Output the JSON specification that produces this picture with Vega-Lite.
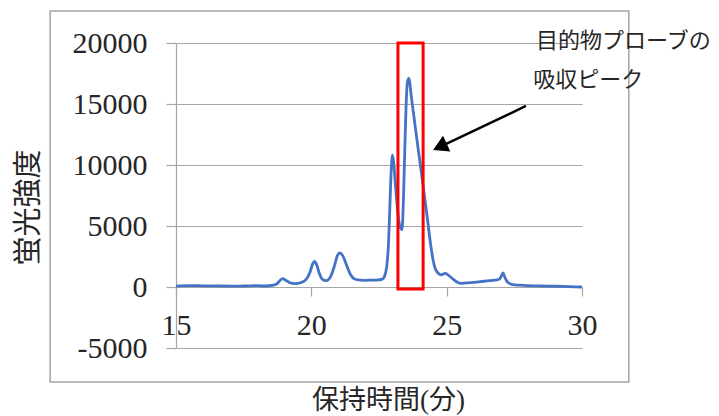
{
  "$schema": "https://vega.github.io/schema/vega-lite/v6.json",
  "width": 406,
  "height": 305,
  "autosize": {"type": "none"},
  "padding": {"left": 176, "top": 43, "right": 137, "bottom": 68},
  "background": "white",
  "config": {"view": {"stroke": null}},
  "encoding": {
    "x": {
      "field": "t", "type": "quantitative",
      "scale": {"domain": [15, 30], "nice": false, "zero": false},
      "axis": {
        "orient": "bottom", "offset": -61, "grid": false,
        "values": [15, 20, 25, 30],
        "labelExpr": "datum.value + ''",
        "domainColor": "#a6a6a6", "domainWidth": 1.2,
        "tickColor": "#a6a6a6", "tickSize": 9, "tickWidth": 1.2,
        "labelFont": "Times New Roman", "labelFontSize": 30, "labelColor": "#262626",
        "labelBaseline": "middle", "labelPadding": 29, "labelFlush": false, "labelOverlap": false,
        "title": "保持時間(分)", "titleFont": "Times New Roman, Noto Sans CJK JP", "titleFontSize": 27,
        "titleFontWeight": "normal", "titleColor": "#262626",
        "titleX": 212, "titleY": 113, "titleAlign": "center", "titleBaseline": "middle"
      }
    },
    "y": {
      "field": "v", "type": "quantitative",
      "scale": {"domain": [-5000, 20000], "nice": false, "zero": false},
      "axis": {
        "orient": "left", "grid": true, "gridColor": "#a6a6a6", "gridWidth": 1.2,
        "values": [-5000, 0, 5000, 10000, 15000, 20000],
        "labelExpr": "datum.value + ''",
        "domainColor": "#a6a6a6", "domainWidth": 1.2,
        "tickColor": "#a6a6a6", "tickSize": 10, "tickWidth": 1.2,
        "labelFont": "Times New Roman", "labelFontSize": 30, "labelColor": "#262626",
        "labelPadding": 19, "labelOverlap": false,
        "title": "蛍光強度", "titleFont": "Noto Sans CJK JP", "titleFontSize": 29,
        "titleFontWeight": "normal", "titleColor": "#262626",
        "titleX": -148, "titleY": 164, "titleAngle": -90, "titleAlign": "center", "titleBaseline": "middle"
      }
    }
  },
  "layer": [
    {
      "data": {"values": [{"t": 10.35, "t2": 31.73, "v": -7787, "v2": 22624}]},
      "mark": {"type": "rect", "fillOpacity": 0, "stroke": "#a6a6a6", "strokeWidth": 1.5, "clip": false},
      "encoding": {"x2": {"field": "t2"}, "y2": {"field": "v2"}}
    },
    {
      "data": {"values": [
        {"t": 15.0, "v": 80}, {"t": 15.5, "v": 120}, {"t": 16.0, "v": 100}, {"t": 16.5, "v": 90},
        {"t": 17.0, "v": 70}, {"t": 17.5, "v": 80}, {"t": 18.0, "v": 120}, {"t": 18.3, "v": 80},
        {"t": 18.6, "v": 150}, {"t": 18.75, "v": 300}, {"t": 18.85, "v": 550}, {"t": 18.95, "v": 680},
        {"t": 19.05, "v": 560}, {"t": 19.2, "v": 350}, {"t": 19.4, "v": 280}, {"t": 19.6, "v": 350},
        {"t": 19.8, "v": 600}, {"t": 19.95, "v": 1200}, {"t": 20.05, "v": 1900}, {"t": 20.12, "v": 2100},
        {"t": 20.2, "v": 1800}, {"t": 20.3, "v": 1100}, {"t": 20.4, "v": 650}, {"t": 20.55, "v": 520},
        {"t": 20.7, "v": 800}, {"t": 20.85, "v": 1700}, {"t": 20.95, "v": 2500}, {"t": 21.05, "v": 2800},
        {"t": 21.15, "v": 2600}, {"t": 21.3, "v": 1800}, {"t": 21.45, "v": 1000}, {"t": 21.6, "v": 650},
        {"t": 21.8, "v": 560}, {"t": 22.0, "v": 550}, {"t": 22.2, "v": 560}, {"t": 22.4, "v": 570},
        {"t": 22.6, "v": 620}, {"t": 22.7, "v": 850}, {"t": 22.78, "v": 1600}, {"t": 22.85, "v": 3500},
        {"t": 22.9, "v": 6500}, {"t": 22.95, "v": 9500}, {"t": 23.0, "v": 10800}, {"t": 23.05, "v": 10000},
        {"t": 23.12, "v": 8000}, {"t": 23.2, "v": 6000}, {"t": 23.28, "v": 4900}, {"t": 23.35, "v": 4700},
        {"t": 23.4, "v": 7000}, {"t": 23.45, "v": 11000}, {"t": 23.5, "v": 14800}, {"t": 23.55, "v": 16800},
        {"t": 23.6, "v": 17100}, {"t": 23.7, "v": 15500}, {"t": 23.8, "v": 13800}, {"t": 23.9, "v": 12100},
        {"t": 24.0, "v": 10450}, {"t": 24.1, "v": 8800}, {"t": 24.2, "v": 7100}, {"t": 24.3, "v": 5400},
        {"t": 24.4, "v": 3600}, {"t": 24.5, "v": 2200}, {"t": 24.58, "v": 1500}, {"t": 24.68, "v": 1150},
        {"t": 24.8, "v": 1000}, {"t": 24.95, "v": 1120}, {"t": 25.05, "v": 1000}, {"t": 25.2, "v": 720},
        {"t": 25.35, "v": 450}, {"t": 25.5, "v": 300}, {"t": 25.7, "v": 330}, {"t": 26.0, "v": 380},
        {"t": 26.3, "v": 450}, {"t": 26.5, "v": 500}, {"t": 26.7, "v": 550}, {"t": 26.85, "v": 580},
        {"t": 26.95, "v": 650}, {"t": 27.02, "v": 900}, {"t": 27.08, "v": 1150}, {"t": 27.15, "v": 800},
        {"t": 27.25, "v": 400}, {"t": 27.4, "v": 220}, {"t": 27.7, "v": 150}, {"t": 28.0, "v": 110},
        {"t": 28.5, "v": 80}, {"t": 29.0, "v": 60}, {"t": 29.5, "v": 30}, {"t": 30.0, "v": 0}
      ]},
      "mark": {"type": "line", "color": "#4472C4", "strokeWidth": 2.8, "interpolate": "monotone"}
    },
    {
      "data": {"values": [{"t": 23.2, "t2": 24.13, "v": -160, "v2": 20000}]},
      "mark": {"type": "rect", "fillOpacity": 0, "stroke": "#ff0000", "strokeWidth": 3},
      "encoding": {"x2": {"field": "t2"}, "y2": {"field": "v2"}}
    },
    {
      "data": {"values": [{"t": 27.93, "v": 14837, "t2": 24.75, "v2": 11490}]},
      "mark": {"type": "rule", "color": "#000000", "strokeWidth": 2.5},
      "encoding": {"x2": {"field": "t2"}, "y2": {"field": "v2"}}
    },
    {
      "data": {"values": [{"t": 24.75, "v": 11490}]},
      "mark": {"type": "point", "shape": "triangle-up", "filled": true, "color": "#000000", "size": 300, "angle": 245, "opacity": 1}
    },
    {
      "data": {"values": [
        {"t": 28.3, "v": 20165, "label": "目的物プローブの"},
        {"t": 28.2, "v": 16968, "label": "吸収ピーク"}
      ]},
      "mark": {"type": "text", "font": "Noto Sans CJK JP", "fontSize": 22, "color": "#262626", "align": "left", "baseline": "middle"},
      "encoding": {"text": {"field": "label"}}
    }
  ]
}
